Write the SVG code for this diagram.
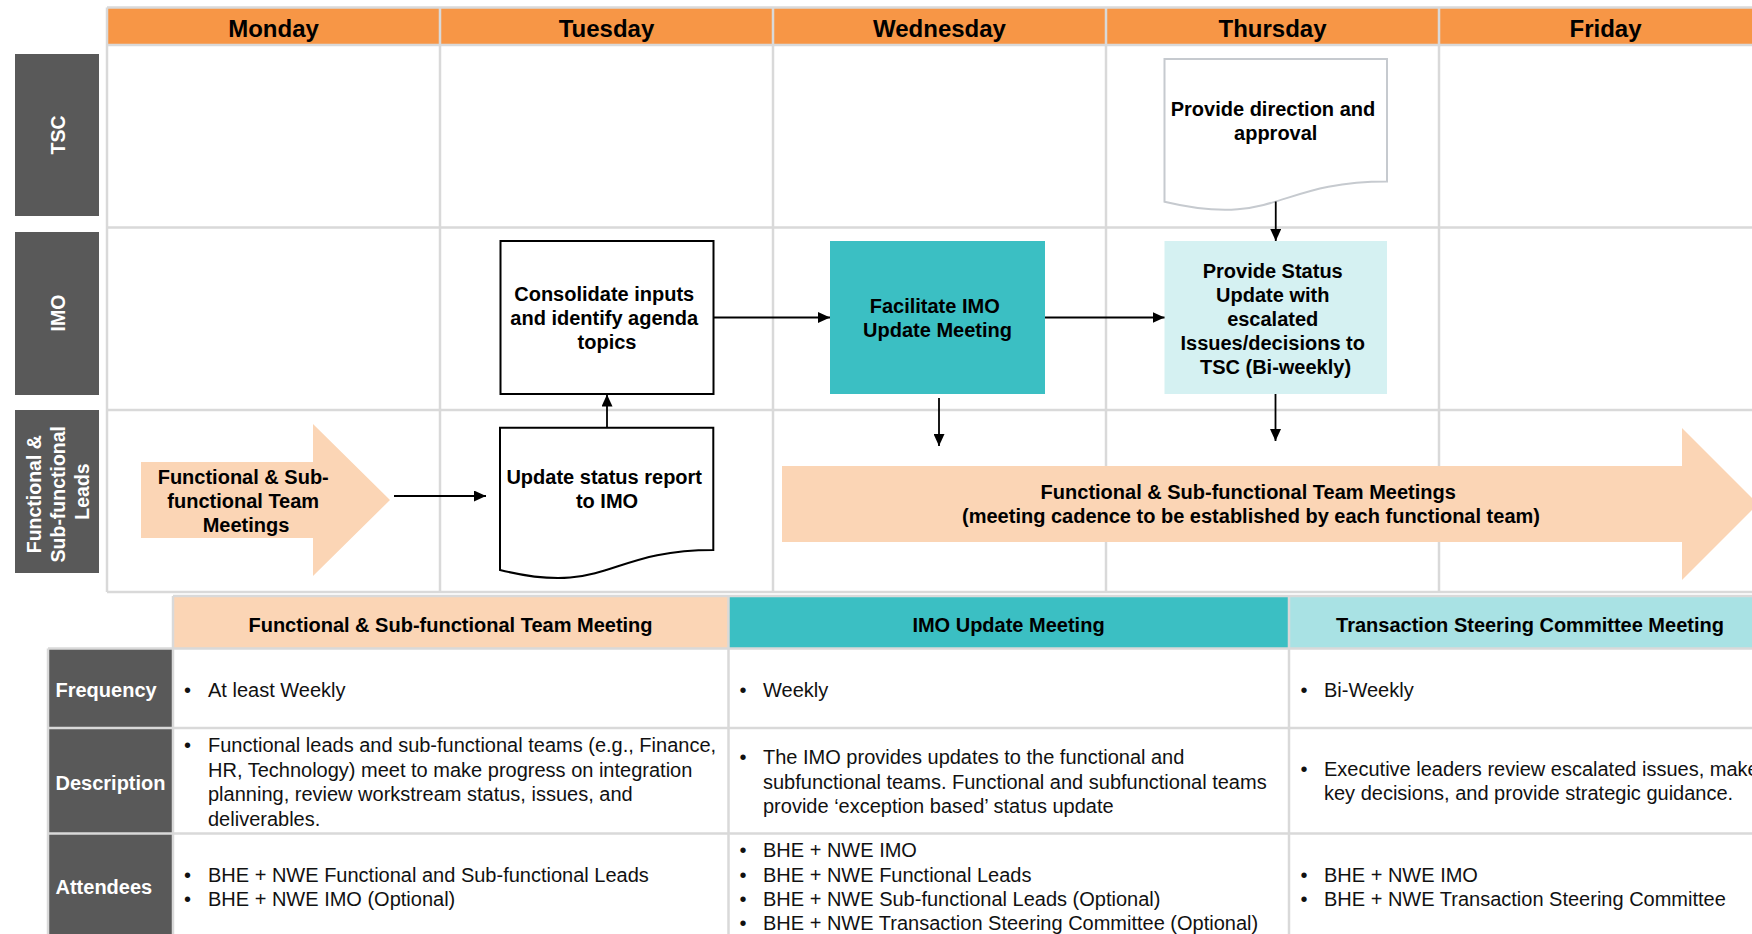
<svg xmlns="http://www.w3.org/2000/svg" width="1752" height="934" viewBox="0 0 1752 934">
  <style>
    text { font-family: "Liberation Sans", Arial, sans-serif; }
    .day { font-size: 24px; font-weight: bold; fill: #000; text-anchor: middle; }
    .lane { font-size: 19.5px; font-weight: bold; fill: #fff; text-anchor: middle; }
    .lbl { font-size: 20px; font-weight: bold; fill: #000; text-anchor: middle; }
    .grid { stroke: #d9d9d9; stroke-width: 2.5; fill: none; }
    .laneBox { fill: #595959; }
    .box { stroke: #000; stroke-width: 2; fill: #fff; }
    .conn { stroke: #000; stroke-width: 1.8; fill: none; marker-end: url(#arrow); }
    .th { font-size: 20px; font-weight: bold; fill: #000; text-anchor: middle; }
    .rh { font-size: 20px; font-weight: bold; fill: #fff; }
    .td { font-size: 20px; fill: #111; }
  </style>
  <defs>
    <marker id="arrow" markerUnits="userSpaceOnUse" markerWidth="12" markerHeight="11" refX="12" refY="5.5" orient="auto">
      <path d="M0,0 L12,5.5 L0,11 Z" fill="#000"/>
    </marker>
  </defs>

  <rect width="1752" height="934" fill="#fff"/>

  <!-- swimlane grid -->
  <g id="grid">
    <rect x="107" y="8" width="1665" height="37" fill="#F79646"/>
    <text class="day" x="273.5" y="36.5">Monday</text>
    <text class="day" x="606.5" y="36.5">Tuesday</text>
    <text class="day" x="939.5" y="36.5">Wednesday</text>
    <text class="day" x="1272.5" y="36.5">Thursday</text>
    <text class="day" x="1605.5" y="36.5">Friday</text>
    <path class="grid" d="M107,7.5 H1772 M107,45 H1772 M107,227.5 H1772 M107,410 H1772 M107,592 H1772
                          M107,7.5 V592 M440,7.5 V592 M773,7.5 V592 M1106,7.5 V592 M1439,7.5 V592"/>
  </g>

  <!-- lane labels -->
  <g id="lane-tsc">
    <rect class="laneBox" x="15" y="54" width="84" height="162"/>
    <text class="lane" transform="translate(57,135) rotate(-90)" y="8">TSC</text>
  </g>
  <g id="lane-imo">
    <rect class="laneBox" x="15" y="232" width="84" height="163"/>
    <text class="lane" transform="translate(57,313) rotate(-90)" y="8">IMO</text>
  </g>
  <g id="lane-leads">
    <rect class="laneBox" x="15" y="410" width="84" height="163"/>
    <text class="lane" transform="translate(57,491.5) rotate(-90)">
      <tspan x="0" y="-16">Functional &amp;</tspan>
      <tspan x="0" y="8">Sub-functional</tspan>
      <tspan x="0" y="32">Leads</tspan>
    </text>
  </g>

  <!-- process nodes -->
  <g id="monday-meetings">
    <polygon points="141,462 313,462 313,424 390,500 313,576 313,538 141,538" fill="#FBD5B5"/>
    <text class="lbl" x="246">
      <tspan x="246" y="483.5">Functional &amp; Sub-</tspan>
      <tspan x="246" y="507.5">functional Team</tspan>
      <tspan x="246" y="531.5">Meetings</tspan>
    </text>
  </g>

  <g id="update-status-report">
    <path class="box" d="M500,427.7 H713.3 V549.9 C606.7,549.9 606.7,596.5 500,570 Z"/>
    <text class="lbl">
      <tspan x="607" y="484">Update status report</tspan>
      <tspan x="607" y="508">to IMO</tspan>
    </text>
  </g>

  <g id="consolidate-inputs">
    <rect class="box" x="500.5" y="241" width="213" height="153"/>
    <text class="lbl">
      <tspan x="607" y="301">Consolidate inputs</tspan>
      <tspan x="607" y="325">and identify agenda</tspan>
      <tspan x="607" y="349">topics</tspan>
    </text>
  </g>

  <g id="facilitate-imo">
    <rect x="830" y="241" width="215" height="153" fill="#3BBFC3"/>
    <text class="lbl">
      <tspan x="937.5" y="313">Facilitate IMO</tspan>
      <tspan x="937.5" y="337">Update Meeting</tspan>
    </text>
  </g>

  <g id="provide-status">
    <rect x="1164.5" y="241" width="222.5" height="153" fill="#D5F1F2"/>
    <text class="lbl">
      <tspan x="1275.5" y="277.5">Provide Status</tspan>
      <tspan x="1275.5" y="301.5">Update with</tspan>
      <tspan x="1275.5" y="325.5">escalated</tspan>
      <tspan x="1275.5" y="349.5">Issues/decisions to</tspan>
      <tspan x="1275.5" y="373.5">TSC (Bi-weekly)</tspan>
    </text>
  </g>

  <g id="tsc-direction">
    <path d="M1164.5,59 H1387 V181.5 C1275.75,181.5 1275.75,228.2 1164.5,201.7 Z" fill="#fff" stroke="#c6cacf" stroke-width="2"/>
    <text class="lbl">
      <tspan x="1275.75" y="116">Provide direction and</tspan>
      <tspan x="1275.75" y="140">approval</tspan>
    </text>
  </g>

  <g id="ongoing-meetings">
    <polygon points="782,466 1682,466 1682,428 1758,504 1682,580 1682,542 782,542" fill="#FBD5B5"/>
    <text class="lbl">
      <tspan x="1251" y="498.5">Functional &amp; Sub-functional Team Meetings</tspan>
      <tspan x="1251" y="522.5">(meeting cadence to be established by each functional team)</tspan>
    </text>
  </g>

  <!-- connectors -->
  <g id="connectors">
    <path class="conn" d="M394,496 H486"/>
    <path class="conn" d="M607,427.7 V394.5"/>
    <path class="conn" d="M713.5,317.5 H830"/>
    <path class="conn" d="M1045,317.5 H1164.5"/>
    <path class="conn" d="M1275.75,201.5 V241"/>
    <path class="conn" d="M939,398 V446"/>
    <path class="conn" d="M1275.5,394 V441"/>
  </g>

  <!-- meeting summary table -->
  <g id="summary-table">
    <rect x="173" y="597" width="555.5" height="51.5" fill="#FBD5B5"/>
    <rect x="728.5" y="597" width="560.5" height="51.5" fill="#3BBFC3"/>
    <rect x="1289" y="597" width="483" height="51.5" fill="#A9E2E4"/>
    <text class="th" x="450.5" y="631.5">Functional &amp; Sub-functional Team Meeting</text>
    <text class="th" x="1008.5" y="631.5">IMO Update Meeting</text>
    <text class="th" x="1530" y="631.5">Transaction Steering Committee Meeting</text>

    <rect class="laneBox" x="48" y="648.5" width="125" height="79.5"/>
    <rect class="laneBox" x="48" y="728" width="125" height="105.5"/>
    <rect class="laneBox" x="48" y="833.5" width="125" height="101"/>
    <text class="rh" x="55.5" y="696.5">Frequency</text>
    <text class="rh" x="55.5" y="789.5">Description</text>
    <text class="rh" x="55.5" y="893.5">Attendees</text>

    <path class="grid" d="M173,596 H1772 M48,648.5 H1772 M48,728 H1772 M48,833.5 H1772
                          M48,648.5 V934 M173,596 V934 M728.5,596 V934 M1289,596 V934"/>

    <!-- frequency -->
    <text class="td" x="184" y="696.5">•</text>
    <text class="td" x="208" y="696.5">At least Weekly</text>
    <text class="td" x="739.5" y="696.5">•</text>
    <text class="td" x="763" y="696.5">Weekly</text>
    <text class="td" x="1300.5" y="696.5">•</text>
    <text class="td" x="1324" y="696.5">Bi-Weekly</text>

    <!-- description -->
    <text class="td" x="184" y="752">•</text>
    <text class="td">
      <tspan x="208" y="752">Functional leads and sub-functional teams (e.g., Finance,</tspan>
      <tspan x="208" y="776.5">HR, Technology) meet to make progress on integration</tspan>
      <tspan x="208" y="801">planning, review workstream status, issues, and</tspan>
      <tspan x="208" y="825.5">deliverables.</tspan>
    </text>
    <text class="td" x="739.5" y="764">•</text>
    <text class="td">
      <tspan x="763" y="764">The IMO provides updates to the functional and</tspan>
      <tspan x="763" y="788.5">subfunctional teams. Functional and subfunctional teams</tspan>
      <tspan x="763" y="813">provide ‘exception based’ status update</tspan>
    </text>
    <text class="td" x="1300.5" y="775.5">•</text>
    <text class="td">
      <tspan x="1324" y="775.5">Executive leaders review escalated issues, make</tspan>
      <tspan x="1324" y="800">key decisions, and provide strategic guidance.</tspan>
    </text>

    <!-- attendees -->
    <text class="td" x="184" y="881.5">•</text>
    <text class="td" x="208" y="881.5">BHE + NWE Functional and Sub-functional Leads</text>
    <text class="td" x="184" y="906">•</text>
    <text class="td" x="208" y="906">BHE + NWE IMO (Optional)</text>

    <text class="td" x="739.5" y="857">•</text>
    <text class="td" x="763" y="857">BHE + NWE IMO</text>
    <text class="td" x="739.5" y="881.5">•</text>
    <text class="td" x="763" y="881.5">BHE + NWE Functional Leads</text>
    <text class="td" x="739.5" y="906">•</text>
    <text class="td" x="763" y="906">BHE + NWE Sub-functional Leads (Optional)</text>
    <text class="td" x="739.5" y="930">•</text>
    <text class="td" x="763" y="930">BHE + NWE Transaction Steering Committee (Optional)</text>

    <text class="td" x="1300.5" y="881.5">•</text>
    <text class="td" x="1324" y="881.5">BHE + NWE IMO</text>
    <text class="td" x="1300.5" y="906">•</text>
    <text class="td" x="1324" y="906">BHE + NWE Transaction Steering Committee</text>
  </g>
</svg>
